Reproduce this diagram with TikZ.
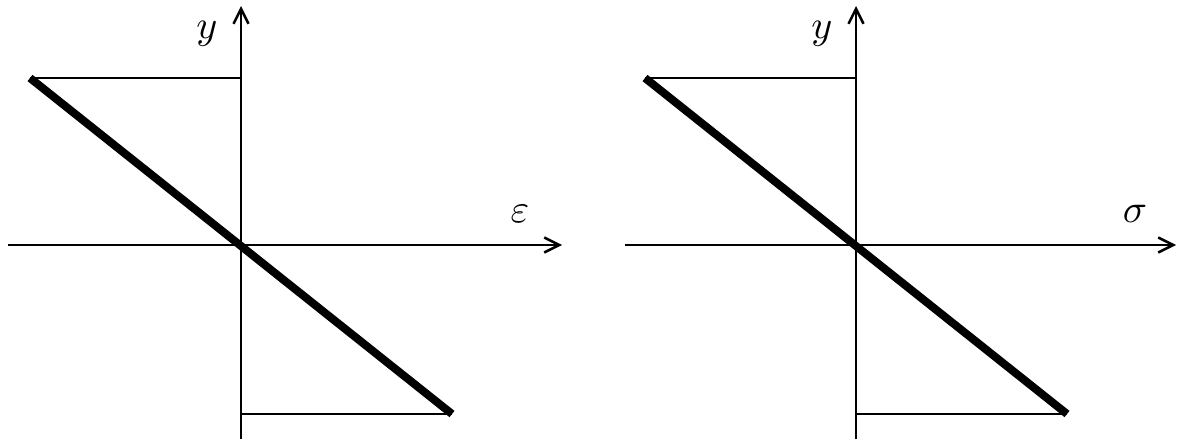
\documentclass[tikz,border=0pt]{standalone}
\usetikzlibrary{arrows.meta}
\begin{document}
\begin{tikzpicture}[x=1pt,y=-1pt,
  axis/.style={line width=2.5pt,-{Straight Barb[length=15pt,width=15pt,line width=2.5pt]}},
  thin/.style={line width=2.5pt},
  thickline/.style={line width=8pt},
  lbl/.style={scale=4,inner sep=0pt}]
\useasboundingbox (0,0) rectangle (1180,439);
% left diagram
\coordinate (Lo) at (241,245);
\coordinate (Lxs) at (8,245);
\coordinate (Lxe) at (562,245);
\coordinate (Lys) at (241,439);
\coordinate (Lye) at (241,6);
\coordinate (La) at (30,78);
\coordinate (Lat) at (241,78);
\coordinate (Lb) at (452,414);
\coordinate (Lbt) at (241,414);
\draw[axis] (Lxs) -- (Lxe);
\draw[axis] (Lys) -- (Lye);
\draw[thin] (La) -- (Lat);
\draw[thin] (Lbt) -- (Lb);
\draw[thickline] (La) -- (Lb);
\node[lbl] (Ly) at (207,34) {$y$};
\node[lbl] (Le) at (520,214) {$\varepsilon$};
% right diagram
\coordinate (Ro) at (856,245);
\coordinate (Rxs) at (625,245);
\coordinate (Rxe) at (1176,245);
\coordinate (Rys) at (856,439);
\coordinate (Rye) at (856,6);
\coordinate (Ra) at (645,78);
\coordinate (Rat) at (856,78);
\coordinate (Rb) at (1067,414);
\coordinate (Rbt) at (856,414);
\draw[axis] (Rxs) -- (Rxe);
\draw[axis] (Rys) -- (Rye);
\draw[thin] (Ra) -- (Rat);
\draw[thin] (Rbt) -- (Rb);
\draw[thickline] (Ra) -- (Rb);
\node[lbl] (Ry) at (822,34) {$y$};
\node[lbl] (Rs) at (1135,214) {$\sigma$};
\end{tikzpicture}
\end{document}
